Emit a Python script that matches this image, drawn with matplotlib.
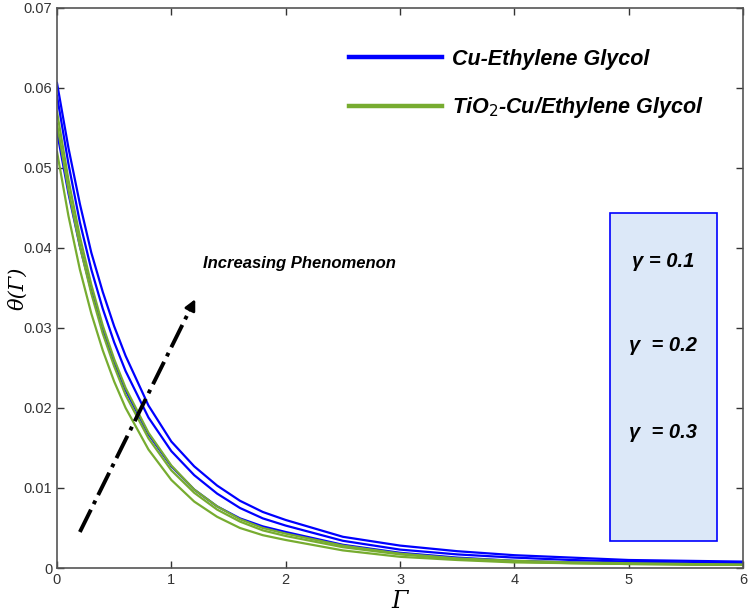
import matplotlib
matplotlib.use("Agg")
import matplotlib.pyplot as plt
from matplotlib.patches import Rectangle

# values
gamma_axis = [0, 0.1, 0.2, 0.3, 0.4, 0.5, 0.6, 0.8, 1.0, 1.2, 1.4, 1.6, 1.8,
              2.0, 2.5, 3.0, 3.5, 4.0, 4.5, 5.0, 5.5, 6.0]

cu_eg_01 = [0.0606, 0.0525, 0.0455, 0.0394, 0.0345, 0.0302, 0.0265, 0.0203, 0.0158,
            0.0127, 0.0103, 0.0084, 0.0070, 0.0060, 0.0039, 0.0028, 0.0021, 0.0016,
            0.0013, 0.0010, 0.0009, 0.0008]
cu_eg_02 = [0.0590, 0.0505, 0.0432, 0.0373, 0.0324, 0.0282, 0.0246, 0.0188, 0.0146,
            0.0116, 0.0093, 0.0075, 0.0062, 0.0053, 0.0034, 0.0023, 0.0017, 0.0013,
            0.0010, 0.0008, 0.0007, 0.0006]
cu_eg_03 = [0.0545, 0.0468, 0.0402, 0.0346, 0.0298, 0.0257, 0.0222, 0.0167, 0.0127,
            0.0098, 0.0077, 0.0062, 0.0052, 0.0045, 0.0029, 0.0019, 0.0013, 0.0009,
            0.0007, 0.0006, 0.0005, 0.0004]

hyb_01 = [0.0570, 0.0485, 0.0414, 0.0354, 0.0303, 0.0261, 0.0225, 0.0169, 0.0128,
          0.0098, 0.0077, 0.0061, 0.0050, 0.0043, 0.0028, 0.0018, 0.0012, 0.0009,
          0.0007, 0.0006, 0.0005, 0.0004]
hyb_02 = [0.0555, 0.0472, 0.0402, 0.0343, 0.0293, 0.0252, 0.0216, 0.0162, 0.0122,
          0.0094, 0.0073, 0.0058, 0.0047, 0.0040, 0.0026, 0.0017, 0.0011, 0.0008,
          0.0006, 0.0005, 0.0005, 0.0004]
hyb_03 = [0.0520, 0.0440, 0.0373, 0.0318, 0.0272, 0.0233, 0.0200, 0.0148, 0.0110,
          0.0083, 0.0064, 0.0050, 0.0041, 0.0035, 0.0022, 0.0014, 0.0010, 0.0007,
          0.0006, 0.0005, 0.0004, 0.0004]

xticks = [0, 1, 2, 3, 4, 5, 6]
yticks = [0, 0.01, 0.02, 0.03, 0.04, 0.05, 0.06, 0.07]
ytick_labels = ["0", "0.01", "0.02", "0.03", "0.04", "0.05", "0.06", "0.07"]
gamma_labels = ["\u03b3 = 0.1", "\u03b3  = 0.2", "\u03b3  = 0.3"]
gamma_label_y = [0.0383, 0.0278, 0.0169]

BLUE = "#0000ff"
GREEN = "#77ac30"

plt.rcParams["font.family"] = ["Liberation Sans", "DejaVu Sans"]

fig = plt.figure(figsize=(7.49, 6.13), dpi=100)
ax = fig.add_axes([0.0761, 0.0734, 0.916, 0.914])

for ys in (cu_eg_01, cu_eg_02, cu_eg_03):
    ax.plot(gamma_axis, ys, color=BLUE, lw=1.6)
for ys in (hyb_01, hyb_02, hyb_03):
    ax.plot(gamma_axis, ys, color=GREEN, lw=1.6)

# legend without frame, big bold italic text
h1, = ax.plot([], [], color=BLUE, lw=3.2, label="Cu-Ethylene Glycol")
h2, = ax.plot([], [], color=GREEN, lw=3.2, label="TiO$_2$-Cu/Ethylene Glycol")
leg = ax.legend(handles=[h1, h2], loc="upper left", bbox_to_anchor=(0.426, 0.927),
                frameon=False, borderpad=0, borderaxespad=0,
                handlelength=4.3, handletextpad=0.45, labelspacing=1.2,
                prop={"weight": "bold", "style": "italic", "size": 15.5})

# arrow
ax.plot([0.2, 1.17], [0.0045, 0.0325], color="black", lw=2.8, ls="-.")
ax.annotate("", xy=(1.22, 0.0339), xytext=(1.15, 0.0319),
            arrowprops=dict(arrowstyle="-|>", color="black", lw=2, mutation_scale=16))
ax.text(1.28, 0.0381, "Increasing Phenomenon", fontsize=12, fontweight="bold",
        fontstyle="italic", va="center", ha="left")

# gamma box
ax.add_patch(Rectangle((4.84, 0.0034), 0.93, 0.041, facecolor="#dce8f8",
                       edgecolor=BLUE, lw=1.2, zorder=3))
for lab, yy in zip(gamma_labels, gamma_label_y):
    ax.text(5.3, yy, lab, fontsize=14.5, fontweight="bold", fontstyle="italic",
            ha="center", va="center", zorder=4)

ax.set_xlim(0, 6)
ax.set_ylim(0, 0.07)
ax.set_xticks(xticks)
ax.set_yticks(yticks)
ax.set_yticklabels(ytick_labels)
ax.tick_params(direction="in", top=True, right=True, length=5, width=1,
               colors="#333333", labelsize=10.5, labelcolor="#333333")
for sp in ax.spines.values():
    sp.set_color("#555555")
    sp.set_linewidth(1.2)

ax.set_xlabel("\u0393", fontsize=17, fontstyle="italic", family="DejaVu Serif", labelpad=2)
ax.set_ylabel("\u03b8(\u0393)", fontsize=15, fontstyle="italic", family="DejaVu Serif")
ax.yaxis.set_label_coords(-0.043, 0.5)

fig.savefig("out.png", dpi=100)
